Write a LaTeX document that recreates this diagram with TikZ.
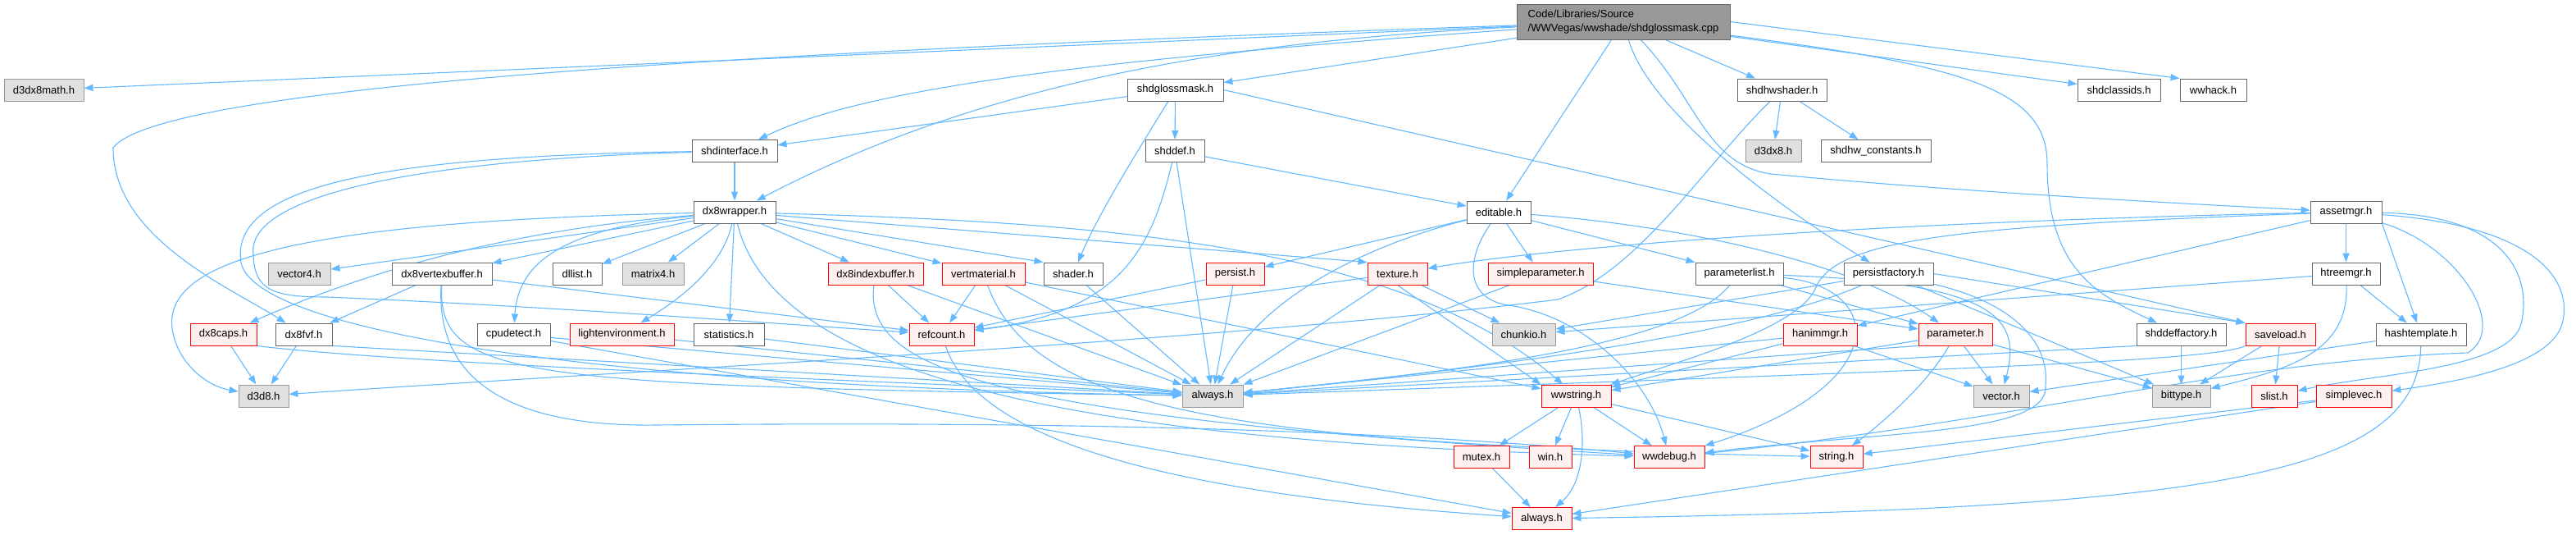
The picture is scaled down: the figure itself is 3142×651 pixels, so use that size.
\documentclass[tikz,border=0pt]{standalone}
\usepackage{fontspec}
\setmainfont{Liberation Sans}
\usetikzlibrary{arrows.meta,backgrounds}
\definecolor{edgeblue}{HTML}{63B8FF}
\definecolor{nodeframe}{HTML}{666666}
\definecolor{lightframe}{HTML}{999999}
\definecolor{missfill}{HTML}{E0E0E0}
\definecolor{mainfill}{HTML}{999999}
\definecolor{libfill}{HTML}{FFF0F0}

\begin{document}
\begin{tikzpicture}[x=1pt,y=-1pt,font=\fontsize{13}{17}\selectfont,
  hfile/.style={draw=nodeframe,fill=white,line width=0.9pt,minimum height=27pt,inner xsep=0pt,inner ysep=0pt},
  extfile/.style={hfile,draw=lightframe,fill=missfill},
  libfile/.style={hfile,draw=red,fill=libfill},
  srcfile/.style={hfile,fill=mainfill,minimum height=43pt,align=left},
  dep/.style={edgeblue,line width=1.1pt,-{Triangle[length=11pt,width=8pt]}}]
\useasboundingbox (0,0) rectangle (3142,651);
% row 0
\node[srcfile,minimum width=260pt] (cpp) at (1980,26.5) {Code/Libraries/Source\\/WWVegas/wwshade/shdglossmask.cpp};
% row 1
\node[extfile,minimum width=97pt] (d3dx8math) at (53.5,109.5) {d3dx8math.h};
\node[hfile,minimum width=117pt] (shdglossmask) at (1433.5,109.5) {shdglossmask.h};
\node[hfile,minimum width=109pt] (shdhwshader) at (2173.5,109.5) {shdhwshader.h};
\node[hfile,minimum width=101pt] (shdclassids) at (2584.5,109.5) {shdclassids.h};
\node[hfile,minimum width=81pt] (wwhack) at (2699.5,109.5) {wwhack.h};
% row 2
\node[hfile,minimum width=104pt] (shdinterface) at (896,184) {shdinterface.h};
\node[hfile,minimum width=72pt] (shddef) at (1433,184) {shddef.h};
\node[extfile,minimum width=68pt] (d3dx8) at (2163,184) {d3dx8.h};
\node[hfile,minimum width=134pt] (shdhwconst) at (2288,184) {shdhw\_constants.h};
% row 3
\node[hfile,minimum width=100pt] (dx8wrapper) at (896,258.5) {dx8wrapper.h};
\node[hfile,minimum width=78pt] (editable) at (1828,258.5) {editable.h};
\node[hfile,minimum width=87pt] (assetmgr) at (2861.5,258.5) {assetmgr.h};
% row 4
\node[extfile,minimum width=76pt] (vector4) at (365,333.5) {vector4.h};
\node[hfile,minimum width=122pt] (dx8vertexbuffer) at (539,333.5) {dx8vertexbuffer.h};
\node[hfile,minimum width=60pt] (dllist) at (704,333.5) {dllist.h};
\node[extfile,minimum width=75pt] (matrix4) at (796.5,333.5) {matrix4.h};
\node[libfile,minimum width=116pt] (dx8indexbuffer) at (1068,333.5) {dx8indexbuffer.h};
\node[libfile,minimum width=101pt] (vertmaterial) at (1199.5,333.5) {vertmaterial.h};
\node[hfile,minimum width=72pt] (shader) at (1309,333.5) {shader.h};
\node[libfile,minimum width=71pt] (persist) at (1506.5,333.5) {persist.h};
\node[libfile,minimum width=73pt] (texture) at (1704.5,333.5) {texture.h};
\node[libfile,minimum width=128pt] (simpleparameter) at (1879,333.5) {simpleparameter.h};
\node[hfile,minimum width=107pt] (parameterlist) at (2121.5,333.5) {parameterlist.h};
\node[hfile,minimum width=109pt] (persistfactory) at (2303.5,333.5) {persistfactory.h};
\node[hfile,minimum width=83pt] (htreemgr) at (2861.5,333.5) {htreemgr.h};
% row 5
\node[libfile,minimum width=81pt] (dx8caps) at (272.5,407.5) {dx8caps.h};
\node[hfile,minimum width=69pt] (dx8fvf) at (370.5,407.5) {dx8fvf.h};
\node[hfile,minimum width=89pt] (cpudetect) at (626.5,407.5) {cpudetect.h};
\node[libfile,minimum width=127pt] (lightenv) at (758.5,407.5) {lightenvironment.h};
\node[hfile,minimum width=86pt] (statistics) at (889,407.5) {statistics.h};
\node[libfile,minimum width=79pt] (refcount) at (1148.5,407.5) {refcount.h};
\node[extfile,minimum width=77pt] (chunkio) at (1858.5,407.5) {chunkio.h};
\node[libfile,minimum width=90pt] (hanimmgr) at (2220,407.5) {hanimmgr.h};
\node[libfile,minimum width=90pt] (parameter) at (2385,407.5) {parameter.h};
\node[hfile,minimum width=109pt] (shddeffactory) at (2660.5,407.5) {shddeffactory.h};
\node[libfile,minimum width=85pt] (saveload) at (2781.5,407.5) {saveload.h};
\node[hfile,minimum width=110pt] (hashtemplate) at (2953,407.5) {hashtemplate.h};
% row 6
\node[extfile,minimum width=61pt] (d3d8) at (321.5,482.5) {d3d8.h};
\node[extfile,minimum width=74pt] (alwaysg) at (1479,482.5) {always.h};
\node[libfile,minimum width=85pt] (wwstring) at (1922.5,482.5) {wwstring.h};
\node[extfile,minimum width=68pt] (vector) at (2441,482.5) {vector.h};
\node[extfile,minimum width=71pt] (bittype) at (2660.5,482.5) {bittype.h};
\node[libfile,minimum width=56pt] (slist) at (2774,482.5) {slist.h};
\node[libfile,minimum width=92pt] (simplevec) at (2871,482.5) {simplevec.h};
% row 7
\node[libfile,minimum width=68pt] (mutex) at (1807,557) {mutex.h};
\node[libfile,minimum width=52pt] (win) at (1891,557) {win.h};
\node[libfile,minimum width=86pt] (wwdebug) at (2036,557) {wwdebug.h};
\node[libfile,minimum width=64pt] (string) at (2240,557) {string.h};
% row 8
\node[libfile,minimum width=73pt] (alwaysr) at (1880.5,632) {always.h};

\begin{scope}[on background layer]
\foreach \s/\t in {cpp/shdglossmask,cpp/shdhwshader,cpp/editable,cpp/shdclassids,cpp/d3dx8math,
  shdglossmask/shdinterface,shdglossmask/shddef,
  shdinterface/dx8wrapper,shddef/editable,shddef/alwaysg,
  shdhwshader/d3dx8,shdhwshader/shdhwconst,
  dx8wrapper/vector4,dx8wrapper/dx8vertexbuffer,dx8wrapper/dllist,dx8wrapper/matrix4,
  dx8wrapper/dx8indexbuffer,dx8wrapper/vertmaterial,dx8wrapper/statistics,
  editable/persist,editable/simpleparameter,editable/parameterlist,
  assetmgr/htreemgr,assetmgr/hanimmgr,
  dx8vertexbuffer/dx8fvf,dx8vertexbuffer/refcount,
  dx8indexbuffer/refcount,dx8indexbuffer/alwaysg,
  vertmaterial/refcount,vertmaterial/alwaysg,vertmaterial/wwstring,
  shader/alwaysg,persist/refcount,persist/alwaysg,
  texture/refcount,texture/alwaysg,texture/chunkio,
  simpleparameter/alwaysg,simpleparameter/parameter,
  parameterlist/parameter,
  persistfactory/chunkio,persistfactory/bittype,
  htreemgr/hashtemplate,htreemgr/chunkio,
  dx8caps/d3d8,dx8fvf/d3d8,
  cpudetect/alwaysg,cpudetect/alwaysr,lightenv/alwaysg,statistics/alwaysg,
  hanimmgr/wwstring,hanimmgr/vector,hanimmgr/alwaysg,
  parameter/vector,parameter/bittype,parameter/wwstring,
  shddeffactory/bittype,saveload/bittype,saveload/slist,
  hashtemplate/vector,
  wwstring/mutex,wwstring/win,wwstring/wwdebug,wwstring/string,
  mutex/alwaysr,simplevec/string,simplevec/alwaysr}
  \draw[dep] (\s) -- (\t);

\draw[dep] (cpp.east) -- (wwhack.north west);
\draw[dep] (shdglossmask.east) -- (saveload.north west);
\draw[dep] (persistfactory.east) -- (saveload.north west);
\draw[dep] (dx8wrapper) -- (shader.north west);
\draw[dep] (dx8wrapper) -- (texture.north west);
\draw[dep] (texture.south) -- (wwstring.north west);
\draw[dep] (assetmgr.south east) -- (hashtemplate);
\draw[dep] (dx8fvf.south east) -- (alwaysg);
\draw[dep] (parameter.south west) -- (alwaysg);
\draw[dep] (shddeffactory.south west) -- (alwaysg);

% long bends
\draw[dep] (cpp) .. controls (1300,75) and (1050,110) .. (shdinterface);
\draw[dep] (cpp) .. controls (1500,50) and (1200,100) .. (dx8wrapper);
\draw[dep] (cpp) .. controls (2010,130) and (2150,240) .. (persistfactory);
\draw[dep] (cpp) .. controls (2070,120) and (2080,200) .. (2160,212) .. controls (2400,235) and (2700,250) .. (assetmgr);
\draw[dep] (cpp) .. controls (2400,80) and (2497,110) .. (2497,200) .. controls (2497,330) and (2560,360) .. (shddeffactory);
\draw[dep] (cpp) .. controls (1000,60) and (200,100) .. (138,180) .. controls (138,290) and (280,350) .. (dx8fvf);
\draw[dep] (shdglossmask) .. controls (1390,180) and (1340,260) .. (shader);
\draw[dep] (shdinterface) .. controls (500,195) and (300,240) .. (309,310) .. controls (310,355) and (335,362) .. (400,362) .. controls (700,375) and (950,395) .. (refcount);
\draw[dep] (shdinterface) .. controls (450,190) and (280,230) .. (294,320) .. controls (310,400) and (700,470) .. (alwaysg);
\draw[dep] (shddef) .. controls (1405,300) and (1370,380) .. (refcount);
\draw[dep] (shdhwshader) .. controls (2080,200) and (2000,330) .. (1900,365) .. controls (1500,415) and (800,450) .. (d3d8);
\draw[dep] (dx8wrapper) .. controls (620,280) and (450,330) .. (dx8caps);
\draw[dep] (dx8wrapper) .. controls (350,270) and (200,320) .. (210,400) .. controls (215,440) and (250,470) .. (d3d8);
\draw[dep] (dx8wrapper) .. controls (690,278) and (632,318) .. (cpudetect);
\draw[dep] (dx8wrapper) .. controls (880,330) and (820,370) .. (lightenv);
\draw[dep] (dx8wrapper) .. controls (1300,270) and (1700,290) .. (wwstring);
\draw[dep] (dx8wrapper) .. controls (950,480) and (1400,540) .. (wwdebug);
\draw[dep] (dx8vertexbuffer) .. controls (535,460) and (620,470) .. (alwaysg);
\draw[dep] (dx8vertexbuffer) .. controls (530,480) and (650,520) .. (800,518) .. controls (1100,515) and (1600,515) .. (wwdebug);
\draw[dep] (dx8indexbuffer) .. controls (1050,460) and (1250,510) .. (wwdebug);
\draw[dep] (vertmaterial) .. controls (1260,500) and (1500,540) .. (string);
\draw[dep] (dx8caps.south east) .. controls (500,445) and (1200,470) .. (alwaysg);
\draw[dep] (refcount) .. controls (1190,530) and (1400,600) .. (alwaysr);
\draw[dep] (editable) .. controls (1700,290) and (1540,350) .. (alwaysg);
\draw[dep] (editable) .. controls (2050,275) and (2260,320) .. (parameter);
\draw[dep] (editable) .. controls (1785,320) and (1790,365) .. (1840,372) .. controls (1930,385) and (2010,460) .. (wwdebug);
\draw[dep] (assetmgr) .. controls (2300,270) and (1900,300) .. (texture);
\draw[dep] (assetmgr) .. controls (2400,275) and (2240,290) .. (2215,350) .. controls (2195,400) and (2050,440) .. (wwstring);
\draw[dep] (assetmgr) .. controls (3050,262) and (3090,330) .. (3075,395) .. controls (3060,450) and (2900,455) .. (slist);
\draw[dep] (assetmgr) .. controls (3090,275) and (3140,340) .. (3125,395) .. controls (3110,445) and (3000,465) .. (simplevec);
\draw[dep] (assetmgr) .. controls (3000,300) and (3060,400) .. (3010,430) .. controls (2720,440) and (2450,515) .. (wwdebug);
\draw[dep] (parameterlist) .. controls (2050,420) and (1800,450) .. (alwaysg);
\draw[dep] (parameterlist) .. controls (2300,350) and (2310,470) .. (wwdebug);
\draw[dep] (parameterlist) .. controls (2440,345) and (2465,390) .. (vector);
\draw[dep] (persistfactory) .. controls (2150,400) and (1900,440) .. (alwaysg);
\draw[dep] (persistfactory) .. controls (2460,370) and (2500,420) .. (2495,470) .. controls (2500,530) and (2300,525) .. (wwdebug);
\draw[dep] (parameter) .. controls (2350,470) and (2290,520) .. (string);
\draw[dep] (htreemgr) .. controls (2865,430) and (2790,450) .. (bittype);
\draw[dep] (saveload.south west) .. controls (2700,440) and (2400,450) .. (alwaysg);
\draw[dep] (hashtemplate) .. controls (2950,580) and (2700,620) .. (alwaysr);
\draw[dep] (wwstring) .. controls (1935,540) and (1930,590) .. (alwaysr);
\end{scope}
\end{tikzpicture}
\end{document}
